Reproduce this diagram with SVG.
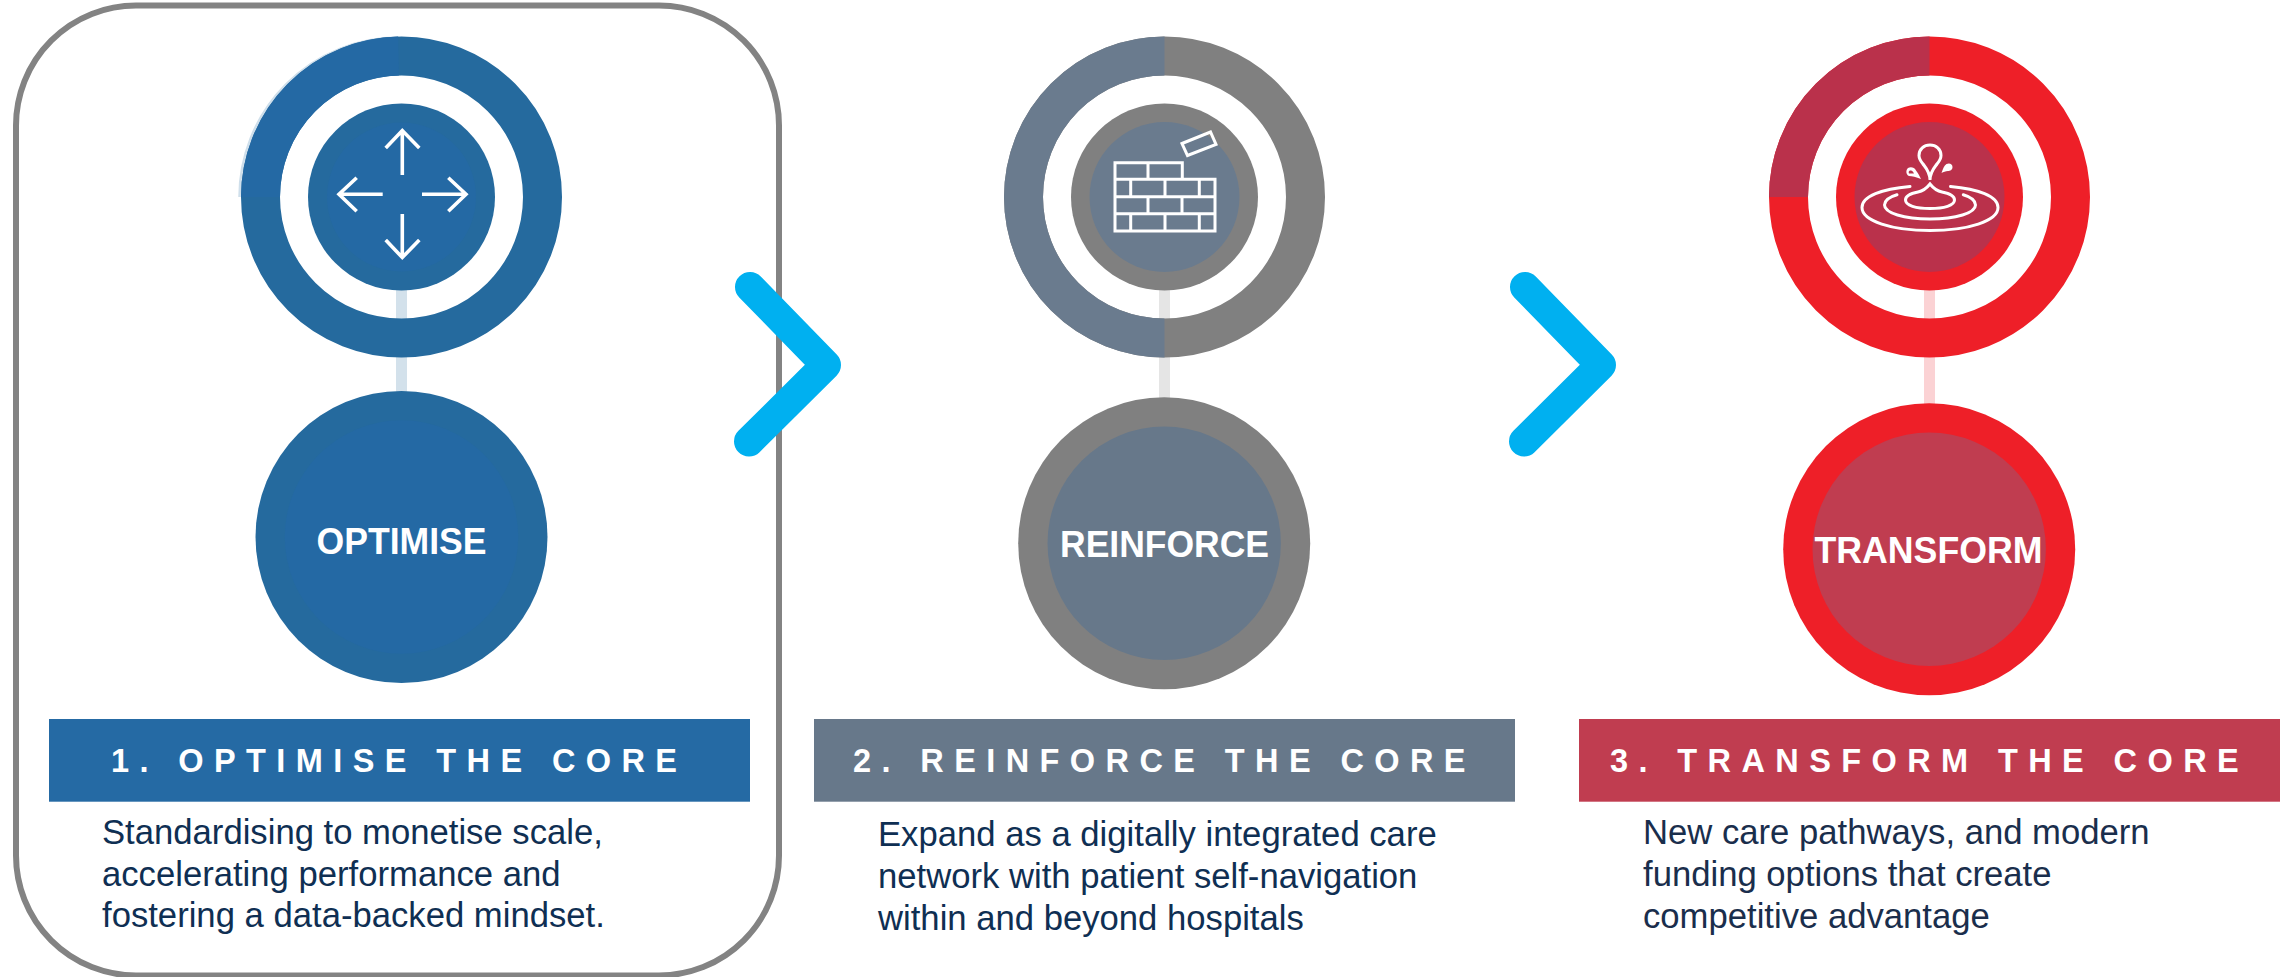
<svg xmlns="http://www.w3.org/2000/svg" width="2280" height="977" viewBox="0 0 2280 977">
<style>
.ico{fill:none;stroke:#fff;stroke-width:3}
.arr{stroke-width:3.6}
.hdr{font:700 32.5px "Liberation Sans",Arial,sans-serif;fill:#fff}
.lbl{font:700 36.8px "Liberation Sans",Arial,sans-serif;fill:#fff}
.body{font:400 34.67px "Liberation Sans",Arial,sans-serif;fill:#0f2f53}
.rim{fill:none;stroke-width:39}
.chev{fill:none;stroke:#00b0f0;stroke-width:30;stroke-linecap:round;stroke-linejoin:round}
.link{stroke-width:11;fill:none}
</style>
<rect width="2280" height="977" fill="#fff"/>
<rect id="highlight-frame" x="16" y="5.500" width="763" height="970" rx="120" ry="120" fill="none" stroke="#838383" stroke-width="6"/>
<g id="connectors">
<path class="link" stroke="#d3e1eb" d="M401.500 250V420"/>
<path class="link" stroke="#e5e5e5" d="M1164.500 250V420"/>
<path class="link" stroke="#fbd2d4" d="M1929.500 250V420"/>
<path class="chev" d="M750 287L826 365L749 441.500"/>
<path class="chev" d="M1525 287L1601 365L1524 441.500"/>
</g>
<g id="optimise-icon">
<path d="M239.500 197A159.500 159.500 0 0 1 398.500 37.500" fill="none" stroke="#cfdfeb" stroke-width="2.500"/>
<circle class="rim" cx="401.500" cy="197" r="141" stroke="#256a9e"/>
<path class="rim" stroke="#2469a4" d="M260.500 197A141 141 0 0 1 398.500 56"/>
<circle cx="401.500" cy="197" r="93.500" fill="#256a9e"/>
<circle cx="401.500" cy="197" r="74.500" fill="#2469a4"/>
<path class="ico arr" d="M402.300 175V130M385.700 148L402.300 130.500L419.300 148M402.300 214V258M385.700 240L402.300 257.500L419.300 240M382.700 194.300H338.800M356.700 177.700L339 194.300L356.700 211.300M422 194.300H466M448.300 177.700L466 194.300L448.300 211.300"/>
</g>
<g id="optimise-label">
<circle cx="401.500" cy="537" r="146" fill="#256a9e"/>
<circle cx="401.500" cy="537" r="116.700" fill="#2469a4"/>
<text class="lbl" x="316.500" y="554" textLength="170" lengthAdjust="spacingAndGlyphs">OPTIMISE</text>
</g>
<g id="reinforce-icon">
<circle class="rim" cx="1164.500" cy="197" r="141" stroke="#808080"/>
<path class="rim" stroke="#6a7b8e" d="M1164.500 56A141 141 0 0 0 1164.500 338"/>
<circle cx="1164.500" cy="197" r="93.500" fill="#808080"/>
<circle cx="1164.500" cy="197" r="75" fill="#6a7b8e"/>
<path class="ico" d="M1115 162.700H1182.300V179.300H1215V231H1115ZM1115 179.300H1182.300M1115 196.700H1215M1115 213.700H1215M1148 162.700V179.300M1130.700 179.300V196.700M1165 179.300V196.700M1199.300 179.300V196.700M1148 196.700V213.700M1182 196.700V213.700M1130.700 213.700V231M1165 213.700V231M1199.300 213.700V231"/>
<path class="ico" d="M1182 143.500L1210.500 132L1216 144.500L1187.500 155.500Z"/>
</g>
<g id="reinforce-label">
<circle cx="1164.200" cy="543.300" r="146" fill="#808080"/>
<circle cx="1164.200" cy="543.300" r="116.700" fill="#67788a"/>
<text class="lbl" x="1060" y="557" textLength="209" lengthAdjust="spacingAndGlyphs">REINFORCE</text>
</g>
<g id="transform-icon">
<circle class="rim" cx="1929.500" cy="197" r="141" stroke="#ee1f28"/>
<path class="rim" stroke="#ba314b" d="M1788.500 197A141 141 0 0 1 1929.500 56"/>
<circle cx="1929.500" cy="197" r="93.500" fill="#ee1f28"/>
<circle cx="1929.500" cy="197" r="75" fill="#ba314b"/>
<g class="ico" stroke-linecap="round">
<path d="M1910 186.500C1882 189 1862 196 1862 207.500C1862 221 1892 230.500 1930 230.500C1968 230.500 1998 221 1998 207.500C1998 196 1978 189 1950.500 186.500"/>
<path d="M1897 194.700C1889 197 1884.500 200.500 1884.500 205C1884.500 213 1904 219 1930 219C1956 219 1975.500 213 1975.500 205C1975.500 200.500 1971 197 1963.300 194.700"/>
<path d="M1930 184C1926 189 1923 191 1918 192C1910 193.500 1905.500 196 1905.500 200C1905.500 205.500 1916 208.500 1930 208.500C1944 208.500 1954.500 205.500 1954.500 200C1954.500 196 1950 193.500 1942 192C1937 191 1934 189 1930 184Z"/>
<path d="M1930 180C1930 172 1926 168 1923 164C1920.500 161 1919 158.500 1919 155.500C1919 149 1924 145 1930 145C1936 145 1941 149 1941 155.500C1941 158.500 1939.500 161 1937 164C1934 168 1930 172 1930 180Z"/>
</g>
<path fill="#fff" fill-rule="evenodd" d="M1921 179C1916 177 1912 176 1909 176C1906 175 1905.500 170 1908 168C1911 166.500 1914.500 167.500 1916 170.500C1918 173 1919.500 176 1921 179ZM1909 173.500L1914 173.500C1913 171 1911.500 170.500 1910 170.500C1908.500 171 1908.500 172.500 1909 173.500Z"/>
<path fill="#fff" d="M1941.500 173C1943 169 1944 165.500 1946.500 164C1949.500 162.500 1952.500 164 1952.500 167C1952.500 170 1950 171 1948 171C1945.500 171 1943.500 172 1941.500 173Z"/>
</g>
<g id="transform-label">
<circle cx="1929.200" cy="549.300" r="146" fill="#ee1f28"/>
<circle cx="1929.200" cy="549.300" r="116.700" fill="#c03d50"/>
<text class="lbl" x="1814.500" y="563" textLength="228" lengthAdjust="spacingAndGlyphs">TRANSFORM</text>
</g>
<g id="stage-1">
<rect x="49" y="719" width="701" height="82.700" fill="#256aa4"/>
<text class="hdr" x="111" y="771.700" letter-spacing="10.400">1. OPTIMISE THE CORE</text>
<text class="body" x="102" y="843.800">Standardising to monetise scale,</text>
<text class="body" x="102" y="885.500">accelerating performance and</text>
<text class="body" x="102" y="927.200">fostering a data-backed mindset.</text>
</g>
<g id="stage-2">
<rect x="814" y="719" width="701" height="82.700" fill="#67788a"/>
<text class="hdr" x="853" y="771.700" letter-spacing="10.400">2. REINFORCE THE CORE</text>
<text class="body" x="878" y="846">Expand as a digitally integrated care</text>
<text class="body" x="878" y="888">network with patient self-navigation</text>
<text class="body" x="878" y="929.500">within and beyond hospitals</text>
</g>
<g id="stage-3">
<rect x="1579" y="719" width="701" height="82.700" fill="#c03d50"/>
<text class="hdr" x="1610" y="771.700" letter-spacing="10.400">3. TRANSFORM THE CORE</text>
<text class="body" x="1643" y="844" style="fill:#1a2e4c">New care pathways, and modern</text>
<text class="body" x="1643" y="885.500" style="fill:#1a2e4c">funding options that create</text>
<text class="body" x="1643" y="927.500" style="fill:#1a2e4c">competitive advantage</text>
</g>
</svg>
